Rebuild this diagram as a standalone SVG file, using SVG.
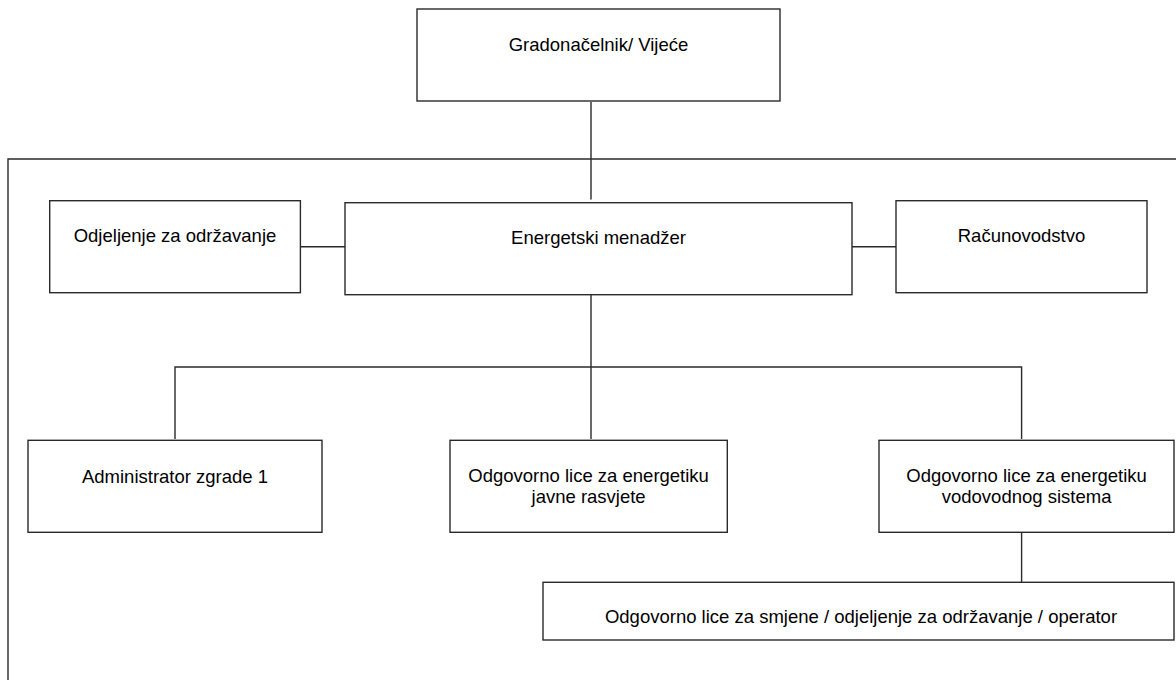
<svg xmlns="http://www.w3.org/2000/svg" width="1176" height="680" viewBox="0 0 1176 680">
<style>
.box{fill:#fff;stroke:#2a2a2a;stroke-width:1.4}
.ln{fill:none;stroke:#2a2a2a;stroke-width:1.4}
text{font-family:"Liberation Sans",Arial,sans-serif;font-size:18.5px;fill:#000;text-anchor:middle}
</style>
<rect width="1176" height="680" fill="#fff"/>
<g id="frame"><path class="ln" d="M1180,159 H8 V684"/></g>
<g id="connectors">
<path class="ln" d="M591,102 V199.5"/>
<path class="ln" d="M300.5,246.7 H345"/>
<path class="ln" d="M852,246.7 H896"/>
<path class="ln" d="M591,294.7 V439"/>
<path class="ln" d="M175,439 V367 H1021.6 V439"/>
<path class="ln" d="M1021.6,532.3 V582.3"/>
</g>
<g id="n-grad"><rect class="box" x="417" y="9" width="363" height="92"/><text x="598.5" y="50.5">Gradonačelnik/ Vijeće</text></g>
<g id="n-odj"><rect class="box" x="49.7" y="200.7" width="250.7" height="92"/><text x="175" y="242">Odjeljenje za održavanje</text></g>
<g id="n-em"><rect class="box" x="345" y="202.7" width="507" height="92"/><text x="598.5" y="244">Energetski menadžer</text></g>
<g id="n-rac"><rect class="box" x="896" y="200.7" width="251" height="92"/><text x="1021.5" y="242">Računovodstvo</text></g>
<g id="n-adm"><rect class="box" x="28" y="440.3" width="294" height="92"/><text x="175" y="482.5">Administrator zgrade 1</text></g>
<g id="n-jr"><rect class="box" x="450" y="440.3" width="277.3" height="92"/><text x="588.6" y="482"><tspan x="588.6">Odgovorno lice za energetiku</tspan><tspan x="588.6" y="502.7">javne rasvjete</tspan></text></g>
<g id="n-vs"><rect class="box" x="879" y="440.3" width="295" height="92"/><text x="1026.6" y="482"><tspan x="1026.6">Odgovorno lice za energetiku</tspan><tspan x="1026.6" y="502.7">vodovodnog sistema</tspan></text></g>
<g id="n-op"><rect class="box" x="543" y="582.3" width="631" height="57.7"/><text x="861" y="622.5">Odgovorno lice za smjene / odjeljenje za održavanje / operator</text></g>
</svg>
